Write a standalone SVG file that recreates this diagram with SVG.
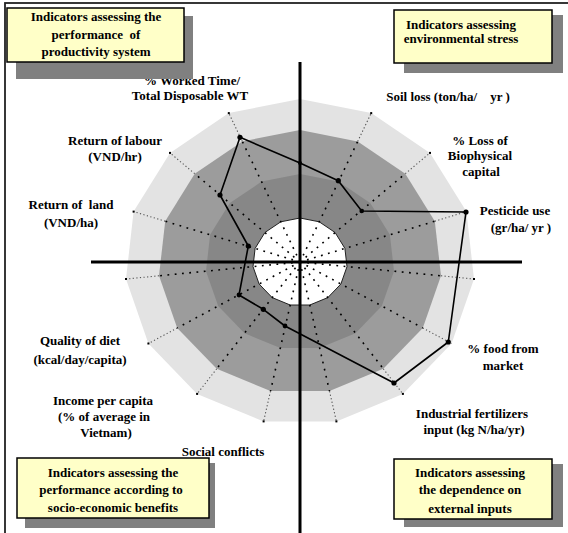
<svg xmlns="http://www.w3.org/2000/svg" width="568" height="533" viewBox="0 0 568 533">
  <style>
    .lbl { font-family: "Liberation Serif", "Times New Roman", serif; font-weight: bold; font-size: 13px; fill: #000; text-anchor: middle; }
    .box { fill: #ffffc8; stroke: #000; stroke-width: 1.5; }
    .shadow { fill: #808080; }
    .spoke-in { stroke: #000; stroke-width: 1.6; stroke-dasharray: 1.8 5.5; fill: none; }
    .spoke-out { stroke: #555; stroke-width: 1.1; stroke-dasharray: 1.2 2.4; fill: none; }
    .axis { stroke: #000; stroke-width: 3; fill: none; }
    .series { stroke: #000; stroke-width: 1.6; fill: none; stroke-linejoin: round; }
    .pt { fill: #000; }
  </style>

  <!-- page frame -->
  <rect x="5" y="3" width="620" height="600" fill="#fff" stroke="#222" stroke-width="1.8"/>

  <!-- radar background rings (15 spokes) -->
  <g id="rings">
    <polygon fill="#e3e3e3" points="300,99 371.2,113.1 430,152.9 466.4,211.6 474,279 451.6,343.5 402.9,393.9 336.4,421.4 263.6,421.4 197.1,393.9 148.4,343.5 126,279 133.6,211.6 170,152.9 228.8,113.1"/>
    <polygon fill="#9c9c9c" points="300,130 357.7,141.4 405.3,173.7 434.8,221.2 441,275.8 422.8,328 383.3,368.8 329.5,391.1 270.5,391.1 216.7,368.8 177.2,328 159,275.8 165.2,221.2 194.7,173.7 242.3,141.4"/>
    <polygon fill="#878787" points="300,174 338.4,181.6 370.2,203.1 389.9,234.8 394,271.2 381.8,306 355.5,333.2 319.6,348.1 280.4,348.1 244.5,333.2 218.2,306 206,271.2 210.1,234.8 229.8,203.1 261.6,181.6"/>
    <polygon fill="#fff" stroke="#222" stroke-width="1" points="300,218 319.2,221.8 335.1,232.5 344.9,248.4 347,266.6 340.9,284 327.8,297.6 309.8,305 290.2,305 272.2,297.6 259.1,284 253,266.6 255.1,248.4 264.9,232.5 280.8,221.8"/>
  </g>

  <!-- dotted spokes -->
  <g id="spokes">
    <path class="spoke-in" d="M300,262 L357.7,141.4 M300,262 L405.3,173.7 M300,262 L434.8,221.2 M300,262 L441,275.8 M300,262 L422.8,328 M300,262 L383.3,368.8 M300,262 L329.5,391.1 M300,262 L270.5,391.1 M300,262 L216.7,368.8 M300,262 L177.2,328 M300,262 L159,275.8 M300,262 L165.2,221.2 M300,262 L194.7,173.7 M300,262 L242.3,141.4"/>
    <path class="spoke-out" d="M357.7,141.4 L371.2,113.1 M405.3,173.7 L430,152.9 M434.8,221.2 L466.4,211.6 M441,275.8 L474,279 M422.8,328 L451.6,343.5 M383.3,368.8 L402.9,393.9 M329.5,391.1 L336.4,421.4 M270.5,391.1 L263.6,421.4 M216.7,368.8 L197.1,393.9 M177.2,328 L148.4,343.5 M159,275.8 L126,279 M165.2,221.2 L133.6,211.6 M194.7,173.7 L170,152.9 M242.3,141.4 L228.8,113.1"/>
    <g fill="#000">
      <rect x="370.2" y="112.1" width="2" height="2"/>
      <rect x="429" y="151.9" width="2" height="2"/>
      <rect x="473" y="278" width="2" height="2"/>
      <rect x="401.9" y="392.9" width="2" height="2"/>
      <rect x="335.4" y="420.4" width="2" height="2"/>
      <rect x="262.6" y="420.4" width="2" height="2"/>
      <rect x="196.1" y="392.9" width="2" height="2"/>
      <rect x="147.4" y="342.5" width="2" height="2"/>
      <rect x="125" y="278" width="2" height="2"/>
      <rect x="132.6" y="210.6" width="2" height="2"/>
      <rect x="169" y="151.9" width="2" height="2"/>
      <rect x="227.8" y="112.1" width="2" height="2"/>
    </g>
  </g>

  <!-- axes -->
  <g id="axes">
    <line class="axis" x1="300" y1="62" x2="300" y2="533"/>
    <line class="axis" x1="91" y1="262" x2="522" y2="262"/>
  </g>

  <!-- measured indicator series -->
  <g id="series">
    <polygon class="series" points="300,163 338.3,180.7 361.7,211 466,212 448.3,342 394,383 285,326 263.3,309.3 239,295 248.3,246 220,195 240,137.3"/>
    <circle class="pt" cx="300" cy="163" r="2"/>
    <circle class="pt" cx="338.3" cy="180.7" r="2.6"/>
    <circle class="pt" cx="361.7" cy="211" r="2.3"/>
    <circle class="pt" cx="466" cy="212" r="2.6"/>
    <circle class="pt" cx="448.3" cy="342" r="2.6"/>
    <circle class="pt" cx="394" cy="383" r="2.6"/>
    <circle class="pt" cx="285" cy="326" r="2.4"/>
    <circle class="pt" cx="263.3" cy="309.3" r="2.6"/>
    <circle class="pt" cx="239" cy="295" r="2.4"/>
    <circle class="pt" cx="248.3" cy="246" r="2.6"/>
    <circle class="pt" cx="220" cy="195" r="2.6"/>
    <circle class="pt" cx="240" cy="137.3" r="2.6"/>
  </g>

  <!-- indicator labels -->
  <g id="label-worked-time"><text class="lbl" x="192" y="85">% Worked Time/</text><text class="lbl" x="190" y="100">Total Disposable WT</text></g>
  <g id="label-return-labour"><text class="lbl" x="115" y="145">Return of labour</text><text class="lbl" x="115" y="161">(VND/hr)</text></g>
  <g id="label-return-land"><text class="lbl" x="71" y="209" xml:space="preserve">Return of  land</text><text class="lbl" x="71" y="227">(VND/ha)</text></g>
  <g id="label-diet"><text class="lbl" x="80" y="345">Quality of diet</text><text class="lbl" x="80" y="364">(kcal/day/capita)</text></g>
  <g id="label-income"><text class="lbl" x="103" y="405">Income per capita</text><text class="lbl" x="104" y="421">(% of average in</text><text class="lbl" x="106" y="437">Vietnam)</text></g>
  <g id="label-social"><text class="lbl" x="223" y="456">Social conflicts</text></g>
  <g id="label-soil"><text class="lbl" x="448" y="101" xml:space="preserve">Soil loss (ton/ha/    yr )</text></g>
  <g id="label-biophysical"><text class="lbl" x="480" y="145">% Loss of</text><text class="lbl" x="480" y="160">Biophysical</text><text class="lbl" x="481" y="176">capital</text></g>
  <g id="label-pesticide"><text class="lbl" x="515" y="215">Pesticide use</text><text class="lbl" x="521" y="232">(gr/ha/ yr )</text></g>
  <g id="label-food"><text class="lbl" x="503" y="353">% food from</text><text class="lbl" x="503" y="370">market</text></g>
  <g id="label-fertilizers"><text class="lbl" x="472" y="418">Industrial fertilizers</text><text class="lbl" x="474" y="434">input (kg N/ha/yr)</text></g>

  <!-- category boxes -->
  <g id="box-productivity">
    <rect class="shadow" x="16" y="16" width="177" height="63"/>
    <rect class="box" x="7" y="8" width="177" height="54"/>
    <text class="lbl" x="96" y="21">Indicators assessing the</text>
    <text class="lbl" x="96" y="38.5" xml:space="preserve">performance  of</text>
    <text class="lbl" x="96" y="56">productivity system</text>
  </g>
  <g id="box-environment">
    <rect class="shadow" x="404" y="15" width="159" height="58"/>
    <rect class="box" x="394" y="10" width="158" height="53"/>
    <text class="lbl" x="461" y="29">Indicators assessing</text>
    <text class="lbl" x="461" y="43">environmental stress</text>
  </g>
  <g id="box-socioeconomic">
    <rect class="shadow" x="25" y="463" width="190" height="65"/>
    <rect class="box" x="17" y="458" width="192" height="60"/>
    <text class="lbl" x="113" y="477">Indicators assessing the</text>
    <text class="lbl" x="111" y="494">performance according to</text>
    <text class="lbl" x="113" y="512">socio-economic benefits</text>
  </g>
  <g id="box-dependence">
    <rect class="shadow" x="404" y="464" width="159" height="63"/>
    <rect class="box" x="394" y="459" width="158" height="60"/>
    <text class="lbl" x="470" y="477">Indicators assessing</text>
    <text class="lbl" x="470" y="494">the dependence on</text>
    <text class="lbl" x="470" y="513">external inputs</text>
  </g>
</svg>
